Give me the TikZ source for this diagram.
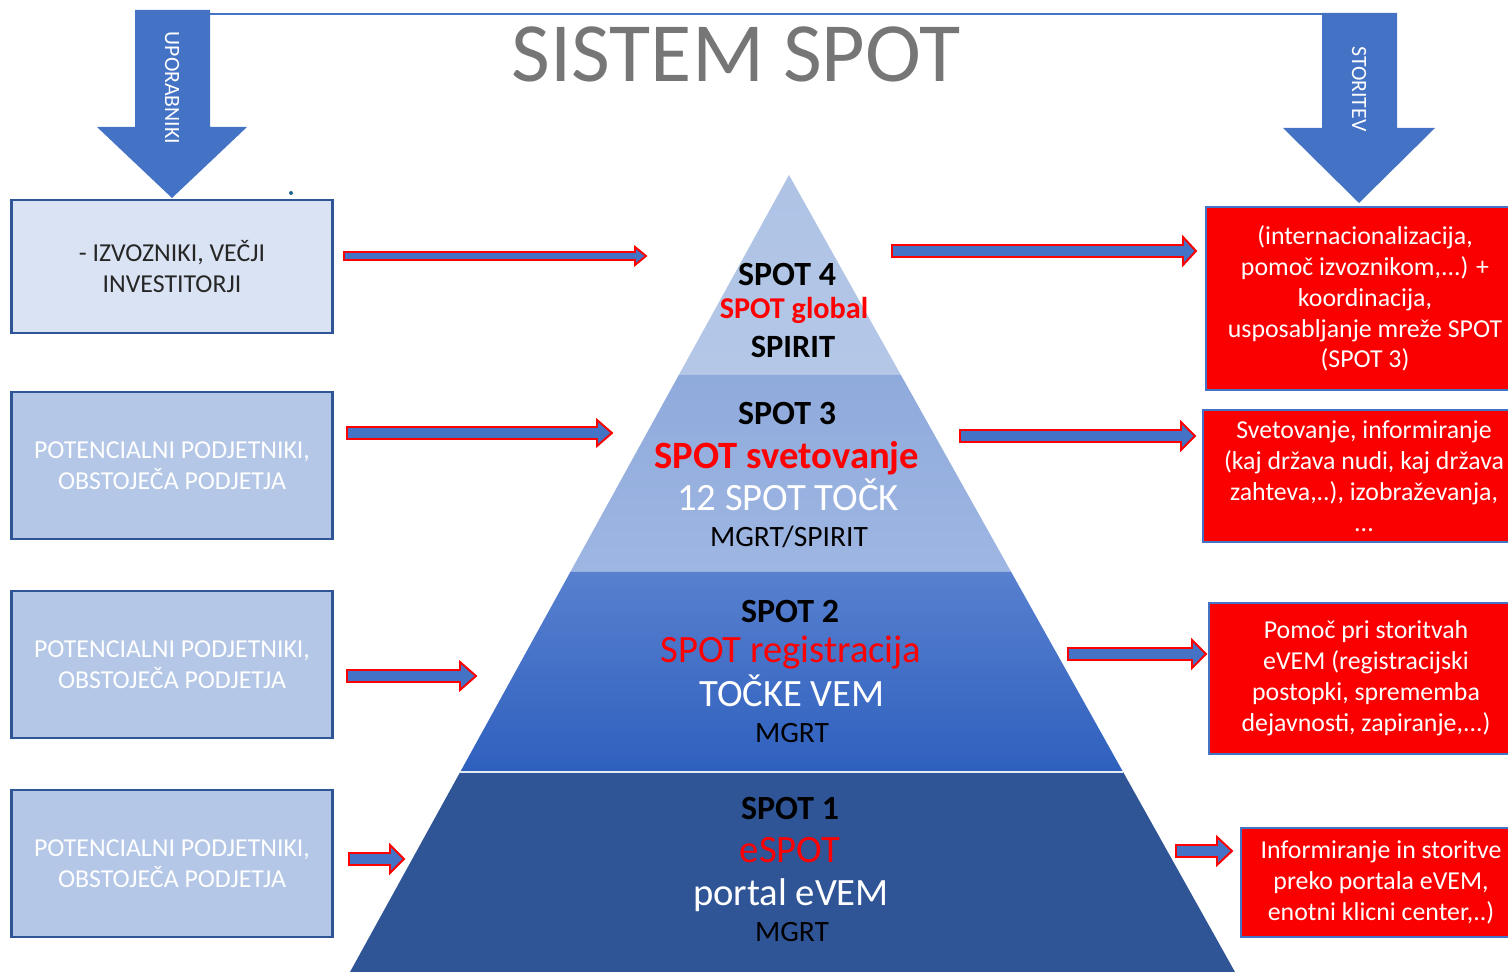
\documentclass[tikz,border=0pt]{standalone}
\usepackage{fontspec}
\setmainfont{Carlito}
\usepackage{xcolor}
\usepackage{tikz}

\definecolor{edgeblue}{RGB}{47,85,151}
\definecolor{arrowblue}{RGB}{68,114,196}
\definecolor{palest}{RGB}{218,227,243}
\definecolor{pale}{RGB}{180,199,231}
\definecolor{titlegray}{RGB}{118,118,118}
\definecolor{boxred}{RGB}{250,0,0}

\newcommand\pxl{0.02cm}
\newcommand\boxfont{\fontsize{14.7}{17.6}\selectfont}
% block arrow: from, to, half shaft, half head, head length (in px)
\newcommand\blockarrow[5]{%
  \draw[Fat] ([yshift=#3*\pxl]#1) -- ([xshift=-#5*\pxl,yshift=#3*\pxl]#2)
    -- ([xshift=-#5*\pxl,yshift=#4*\pxl]#2) -- (#2)
    -- ([xshift=-#5*\pxl,yshift=-#4*\pxl]#2) -- ([xshift=-#5*\pxl,yshift=-#3*\pxl]#2)
    -- ([yshift=-#3*\pxl]#1) -- cycle;}

\begin{document}
\begin{tikzpicture}[x=0.02cm, y=-0.02cm,
    userbox/.style={draw=edgeblue, line width=1.2pt, fill=pale, text=white,
        minimum width=6.42cm, minimum height=2.94cm, align=center, font=\boxfont},
    servicebox/.style={draw=arrowblue, line width=1pt, fill=boxred, text=white,
        align=center, font=\boxfont},
    Fat/.style={fill=arrowblue, draw=red, line width=1.1pt, line join=miter},
    bigarrow/.style={fill=arrowblue},
    sidelabel/.style={text=white, rotate=-90, font=\fontsize{12.4}{14}\selectfont},
    level/.style={anchor=base, inner sep=0pt, font=\fontsize{19.3}{23}\selectfont\bfseries},
    big/.style={anchor=base, inner sep=0pt, font=\fontsize{22}{26}\selectfont},
    owner/.style={anchor=base, inner sep=0pt, font=\fontsize{16.8}{20}\selectfont},
                        ]
    \useasboundingbox (0,0) rectangle (1508,972);
    \clip (0,0) rectangle (1508,972);

    \node[anchor=base, inner sep=0pt, text=titlegray, font=\fontsize{48}{56}\selectfont]
        (title_node) at (736,82) {SISTEM SPOT};

    % big arrows on top
    \fill[bigarrow] (135,10) -- (210,10) -- (210,127) -- (247,127) -- (172,198)
        -- (97,127) -- (135,127) -- cycle;
    \fill[bigarrow] (1322,13) -- (1397,13) -- (1397,128) -- (1435,128) -- (1359,203)
        -- (1283,128) -- (1322,128) -- cycle;
    \node[sidelabel] (users_label) at (172,88) {UPORABNIKI};
    \node[sidelabel] (service_label) at (1359,89) {STORITEV};
    \coordinate (line_left) at (210,14);
    \coordinate (line_right) at (1322,14);
    \draw[arrowblue, line width=0.6pt] (line_left) -- (line_right);
    \fill[edgeblue!70!teal] (291,193) circle (2);

    % pyramid
    \shade[top color=pale!95!arrowblue, bottom color=pale] (789,175) -- (900.9,375) -- (678.8,375) -- cycle;
    \shade[top color={rgb,255:red,143;green,170;blue,220}, bottom color={rgb,255:red,158;green,182;blue,226}]
        (678.8,375) -- (900.9,375) -- (1011.2,572) -- (570.3,572) -- cycle;
    \shade[top color={rgb,255:red,88;green,128;blue,207}, bottom color={rgb,255:red,46;green,96;blue,190}]
        (570.3,572) -- (1011.2,572) -- (1123.1,772) -- (460.2,772) -- cycle;
    \fill[edgeblue] (460.2,772) -- (1123.1,772) -- (1235,972) -- (350,972) -- cycle;
    \draw[white!85!arrowblue, line width=1.2pt] (460.2,772) -- (1123.1,772);

    \node[level] (spot_four) at (787,286) {SPOT 4};
    \node[level, text=red, font=\fontsize{17.2}{21}\selectfont\bfseries] (spot_global) at (794,319) {SPOT global};
    \node[level, font=\fontsize{18.5}{22}\selectfont\bfseries] (spirit_node) at (793,358) {SPIRIT};

    \node[level] (spot_three) at (787,425) {SPOT 3};
    \node[big, text=red, font=\fontsize{22}{26}\selectfont\bfseries] (advice_node) at (787,469) {SPOT svetovanje};
    \node[big, text=white] (points_node) at (788,511) {12 SPOT TOČK};
    \node[owner] (owner_three) at (789,547) {MGRT/SPIRIT};

    \node[level] (spot_two) at (790,623) {SPOT 2};
    \node[big, text=red] (register_node) at (791,663) {SPOT registracija};
    \node[big, text=white] (vem_node) at (792,707) {TOČKE VEM};
    \node[owner] (owner_two) at (792,743) {MGRT};

    \node[level] (spot_one) at (790,819) {SPOT 1};
    \node[big, text=red] (espot_node) at (790,862) {eSPOT};
    \node[big, text=white] (portal_node) at (791,905) {portal eVEM};
    \node[owner] (owner_one) at (792,941) {MGRT};

    % users
    \node[userbox, fill=palest, text=black!85, minimum height=2.66cm] (exporters_node) at (172,266.5)
        {- IZVOZNIKI, VEČJI\\INVESTITORJI};
    \node[userbox] (users_three) at (172,465.5) {POTENCIALNI PODJETNIKI,\\OBSTOJEČA PODJETJA};
    \node[userbox] (users_two) at (172,664.5) {POTENCIALNI PODJETNIKI,\\OBSTOJEČA PODJETJA};
    \node[userbox] (users_one) at (172,863.5) {POTENCIALNI PODJETNIKI,\\OBSTOJEČA PODJETJA};

    % services
    \node[servicebox, minimum width=6.36cm, minimum height=3.66cm] (global_service) at (1365,298.5)
        {(internacionalizacija,\\pomoč izvoznikom,...) +\\koordinacija,\\usposabljanje mreže SPOT\\(SPOT 3)};
    \node[servicebox, minimum width=6.44cm, minimum height=2.64cm] (advice_service) at (1364,476)
        {Svetovanje, informiranje\\(kaj država nudi, kaj država\\zahteva,..), izobraževanja,\\...};
    \node[servicebox, minimum width=6.28cm, minimum height=3.02cm] (register_service) at (1366,678.5)
        {Pomoč pri storitvah\\eVEM (registracijski\\postopki, sprememba\\dejavnosti, zapiranje,...)};
    \node[servicebox, minimum width=5.6cm, minimum height=2.18cm] (portal_service) at (1381,882.5)
        {Informiranje in storitve\\preko portala eVEM,\\enotni klicni center,..)};

    % arrows
    \coordinate (in_four_start) at (344,256);  \coordinate (in_four_end) at (646,256);
    \coordinate (in_three_start) at (347,433); \coordinate (in_three_end) at (612,433);
    \coordinate (in_two_start) at (347,676);   \coordinate (in_two_end) at (476,676);
    \coordinate (in_one_start) at (349,859);   \coordinate (in_one_end) at (404,859);
    \coordinate (out_four_start) at (892,251); \coordinate (out_four_end) at (1196,251);
    \coordinate (out_three_start) at (960,436);\coordinate (out_three_end) at (1195,436);
    \coordinate (out_two_start) at (1068,654); \coordinate (out_two_end) at (1206,654);
    \coordinate (out_one_start) at (1176,851); \coordinate (out_one_end) at (1232,851);

    \blockarrow{in_four_start}{in_four_end}{4}{9}{11}
    \blockarrow{in_three_start}{in_three_end}{6}{13}{15}
    \blockarrow{in_two_start}{in_two_end}{6}{14}{16}
    \blockarrow{in_one_start}{in_one_end}{6}{14}{14}
    \blockarrow{out_four_start}{out_four_end}{6}{14}{13}
    \blockarrow{out_three_start}{out_three_end}{6}{14}{14}
    \blockarrow{out_two_start}{out_two_end}{6}{14}{14}
    \blockarrow{out_one_start}{out_one_end}{6}{14}{15}

\end{tikzpicture}
\end{document}
